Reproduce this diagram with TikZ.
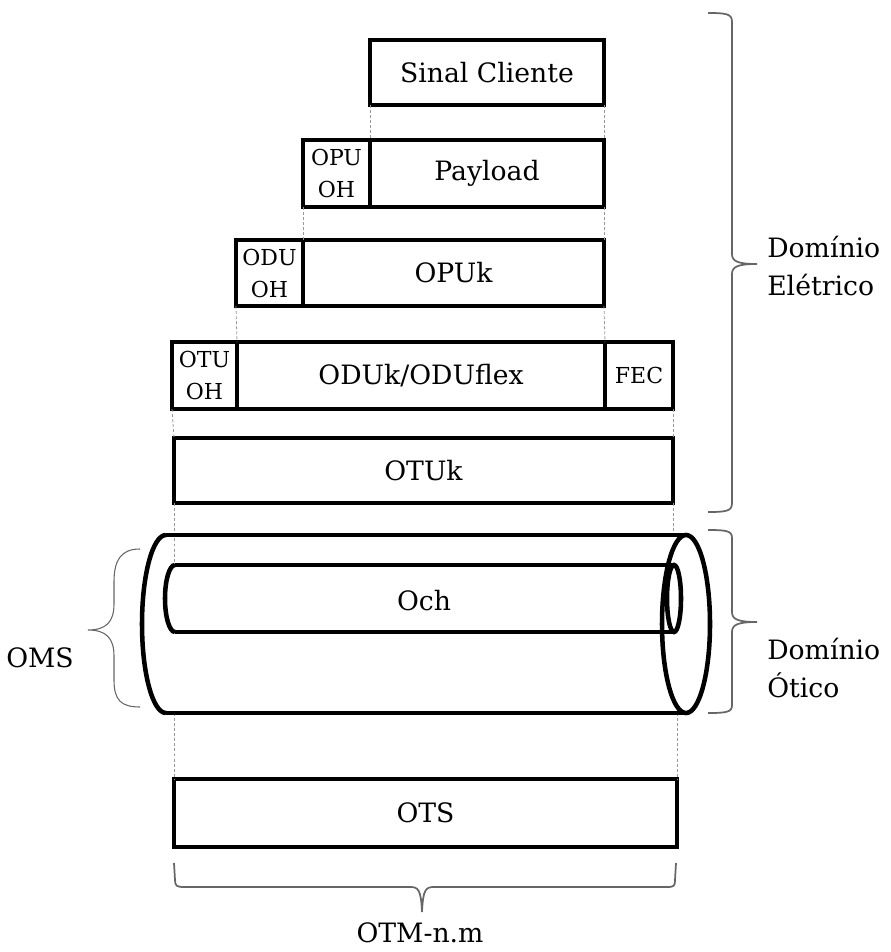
\documentclass[tikz,border=0pt]{standalone}
\usepackage{fontspec}
\setmainfont{DejaVu Serif}
\newcommand\cellbox[7][]{\node[cell,#1,minimum width={(#5-#3)*0.75pt},minimum height={(#6-#4)*0.75pt},anchor=north west] (#2) at (#3,#4) {#7};}
\begin{document}
\begin{tikzpicture}[x=0.75pt,y=-0.75pt,
  cell/.style={draw, line width=3.4pt, inner sep=0pt, outer sep=0pt, align=center, font=\fontsize{20}{24}\selectfont},
  cellsmall/.style={font=\fontsize{16.5}{24}\selectfont},
  guide/.style={draw=gray!80, line width=0.6pt, dash pattern=on 2.2pt off 1.6pt},
  brk/.style={draw=gray!80!black, line width=1.3pt},
  thinbrk/.style={draw=gray!80!black, line width=0.8pt},
  cyl/.style={line width=3.4pt},
  sidetext/.style={font=\fontsize{20}{28.5}\selectfont, align=left, inner sep=0pt}
]
\useasboundingbox (0,0) rectangle (891,952);

% layered boxes
\cellbox{sinal}{370}{40}{604}{105}{Sinal Cliente}
\cellbox[cellsmall]{opuoh}{303}{140}{370}{207}{OPU\\OH}
\cellbox{payload}{370}{140}{604}{207}{Payload}
\cellbox[cellsmall]{oduoh}{236}{240}{303}{306}{ODU\\OH}
\cellbox{opuk}{303}{240}{604}{306}{OPUk}
\cellbox[cellsmall]{otuoh}{172}{342}{237}{409}{OTU\\OH}
\cellbox{oduk}{237}{342}{605}{409}{ODUk/ODUflex}
\cellbox[cellsmall]{fec}{605}{342}{673}{409}{FEC}
\cellbox{otuk}{174}{438}{673}{503}{OTUk}
\cellbox{ots}{174}{779}{677}{847}{OTS}

% dashed guides
\draw[guide] (sinal.south west) -- (payload.north west);
\draw[guide] (sinal.south east) -- (payload.north east);
\draw[guide] (opuoh.south west) -- (opuk.north west);
\draw[guide] (payload.south east) -- (opuk.north east);
\draw[guide] (oduoh.south west) -- (oduk.north west);
\draw[guide] (opuk.south east) -- (oduk.north east);
\draw[guide] (otuoh.south west) -- (otuk.north west);
\draw[guide] (fec.south east) -- (otuk.north east);

\coordinate (cylA) at (174,565);
\coordinate (cylB) at (673,535);
\coordinate (cylC) at (174,713);
\coordinate (cylD) at (677,713);
\draw[guide] (otuk.south west) -- (cylA);
\draw[guide] (otuk.south east) -- (cylB);
\draw[guide] (cylC) -- (ots.north west);
\draw[guide] (cylD) -- (ots.north east);

% outer cylinder (OMS)
\draw[cyl] (166,535) -- (686,535);
\draw[cyl] (166,713) -- (686,713);
\draw[cyl] (166,535) arc[start angle=270, end angle=90, x radius=24, y radius=89];
\draw[cyl] (686,624) ellipse[x radius=24, y radius=89];

% inner cylinder (Och)
\draw[cyl] (175,565) -- (674,565);
\draw[cyl] (175,632) -- (674,632);
\draw[cyl] (175,565) arc[start angle=270, end angle=90, x radius=10, y radius=33.5];
\draw[cyl] (674,598.5) ellipse[x radius=7, y radius=33.5];
\node[font=\fontsize{20}{24}\selectfont] (och) at (424,601) {Och};

% brace: Dominio Eletrico
\draw[brk] (708,13) .. controls (727,13) and (732,14) .. (732,22) -- (732,254)
  .. controls (732,261) and (737,264) .. (757,264)
  .. controls (737,264) and (732,267) .. (732,274) -- (732,503)
  .. controls (732,511) and (727,512) .. (708,512);
\node[sidetext, anchor=west] (elet) at (767,266) {Domínio\\Elétrico};

% brace: Dominio Otico
\draw[brk] (708,530) .. controls (727,530) and (732,531) .. (732,538) -- (732,612)
  .. controls (732,619) and (737,622) .. (757,622)
  .. controls (737,622) and (732,625) .. (732,632) -- (732,705)
  .. controls (732,712) and (727,713) .. (708,713);
\node[sidetext, anchor=west] (otic) at (767,668) {Domínio\\Ótico};

% brace: OMS
\draw[thinbrk] (140,549) .. controls (121,549) and (114,560) .. (114,582) -- (114,604)
  .. controls (114,622) and (106,630) .. (88,630)
  .. controls (106,630) and (114,638) .. (114,656) -- (114,680)
  .. controls (114,700) and (121,707) .. (140,707);
\node[sidetext, anchor=east] (oms) at (74,658) {OMS};

% brace: OTM-n.m
\draw[brk] (174,863) -- (175,880) .. controls (175,886) and (177,887) .. (184,887) -- (410,887)
  .. controls (418,887) and (421,889) .. (422,912)
  .. controls (423,889) and (426,887) .. (434,887) -- (667,887)
  .. controls (674,887) and (675,886) .. (675,880) -- (676,863);
\node[sidetext] (otm) at (420,933) {OTM-n.m};
\end{tikzpicture}
\end{document}
